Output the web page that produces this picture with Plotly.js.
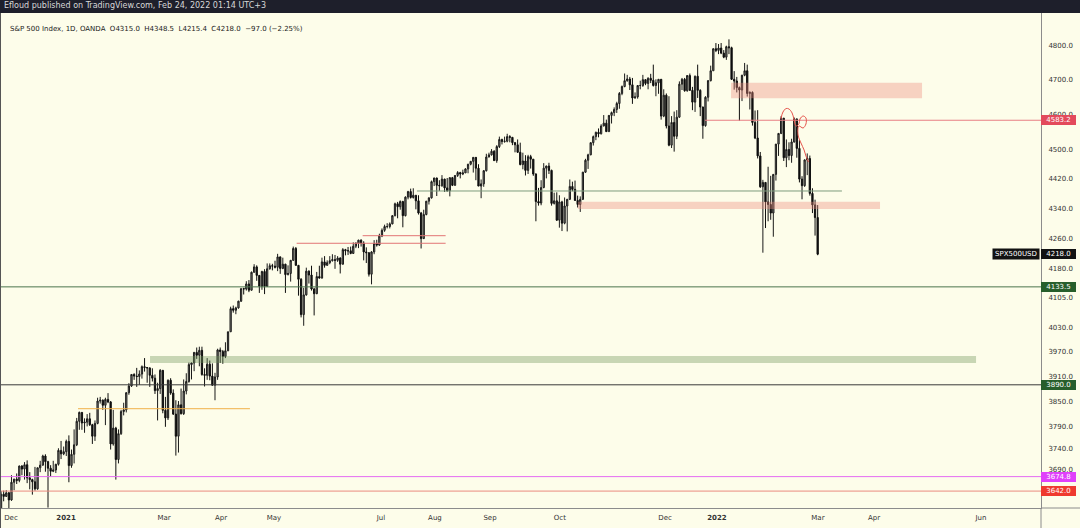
<!DOCTYPE html>
<html><head><meta charset="utf-8">
<script src="https://cdn.plot.ly/plotly-3.0.1.min.js"></script>
<style>html,body{margin:0;padding:0;background:#fdfdea;overflow:hidden}#chart{width:1080px;height:528px}</style>
</head><body><div id="chart"></div>
<script>
// S&P 500 (OANDA SPX500USD), daily bars, Nov 24 2020 .. Feb 23 2022
const open = [
 3594,3635,3630,3638,
 3622,3662,3669,3666,3699,3692,3702,3672,3668,3663,3647,3695,3701,3722,3709,3694,3687,3690,3703,3735,3727,3732,
 3756,3700,3726,3748,3803,3824,3799,3801,3809,3795,3768,3798,3851,3853,3841,3855,3849,3750,3787,
 3714,3774,3826,3830,3871,3887,3915,3911,3910,3916,3934,3932,3931,3913,3906,3876,3881,3925,3829,
 3811,3901,3870,3820,3768,3842,3821,3875,3898,3939,3943,3969,3962,3974,3915,3913,3940,3911,3889,3909,3975,3971,3959,
 3973,4020,4078,4074,4080,4097,4129,4128,4141,4125,4171,4185,4163,4135,4173,4135,4180,4188,4187,4184,4211,
 4181,4192,4165,4168,4202,4233,4189,4153,4063,4113,4174,4164,4128,4116,4160,4156,4198,4189,4196,4201,
 4204,4202,4208,4192,4230,4227,4227,4220,4239,4247,4255,4247,4224,4222,4166,4224,4246,4242,4266,4281,4291,4291,
 4298,4320,4352,4344,4358,4320,4370,4385,4369,4375,4360,4327,4259,4323,4359,4368,4412,4422,4402,4401,4419,
 4395,4387,4423,4402,4429,4437,4433,4436,4447,4460,4468,4479,4449,4400,4406,4442,4480,4486,4496,4470,4509,4529,
 4523,4524,4537,4535,4520,4514,4493,4459,4469,4443,4481,4474,4433,4358,4354,4396,4449,4455,4443,4353,4360,
 4308,4357,4300,4346,4364,4399,4391,4361,4350,4364,4438,4471,4486,4520,4537,4549,4545,4567,4575,4551,4597,
 4605,4614,4631,4660,4680,4697,4702,4685,4647,4650,4683,4683,4700,4689,4704,4698,4683,4691,4701,4595,4655,
 4567,4513,4577,4538,4592,4687,4701,4668,4712,4669,4635,4710,4669,4621,4568,4649,4697,4726,4791,4786,4793,4778,
 4766,4797,4794,4701,4696,4677,4670,4713,4726,4660,4663,4577,4533,4483,4398,4410,4357,4350,4327,4432,
 4516,4546,4589,4478,4501,4484,4522,4587,4504,4419,4401,4472,4476,4380,4349,4315
];
const high = [
 3642,3643,3644,3640,
 3678,3670,3682,3700,3701,3708,3712,3685,3670,3697,3695,3711,3725,3726,3711,3701,3711,3704,3740,3757,3744,3760,
 3770,3737,3784,3811,3826,3825,3810,3820,3823,3797,3805,3859,3861,3855,3859,3870,3851,3830,3790,
 3784,3830,3847,3872,3894,3916,3918,3931,3925,3937,3955,3933,3932,3930,3915,3895,3928,3926,3861,
 3903,3906,3879,3853,3851,3881,3903,3918,3944,3944,3970,3981,3983,3983,3930,3955,3949,3942,3919,3978,3981,3975,3994,
 4020,4083,4086,4083,4098,4129,4131,4148,4151,4173,4192,4189,4164,4175,4179,4194,4194,4193,4201,4219,4212,
 4209,4193,4189,4203,4238,4237,4190,4156,4131,4183,4176,4188,4131,4172,4188,4209,4213,4202,4213,4218,
 4216,4213,4210,4234,4232,4237,4238,4249,4249,4256,4257,4252,4236,4223,4226,4255,4256,4272,4286,4296,4300,4302,
 4321,4355,4357,4361,4360,4372,4387,4393,4394,4375,4375,4330,4336,4359,4369,4415,4423,4423,4416,4430,4420,
 4422,4424,4425,4430,4441,4439,4445,4449,4461,4468,4480,4480,4460,4418,4444,4489,4492,4502,4499,4513,4537,4531,
 4537,4545,4541,4535,4522,4529,4520,4492,4485,4486,4486,4474,4435,4395,4416,4463,4456,4464,4445,4382,4383,
 4375,4360,4369,4365,4418,4412,4415,4374,4372,4439,4475,4489,4520,4540,4551,4560,4572,4598,4585,4598,4608,
 4620,4636,4664,4683,4718,4714,4708,4705,4663,4684,4697,4714,4701,4707,4717,4744,4701,4702,4702,4672,4660,
 4652,4595,4608,4612,4695,4705,4705,4713,4718,4679,4712,4744,4672,4622,4652,4699,4741,4792,4808,4805,4808,4787,
 4800,4819,4797,4725,4708,4680,4714,4749,4744,4666,4666,4611,4612,4494,4417,4411,4453,4428,4432,4516,
 4547,4595,4590,4529,4521,4531,4591,4588,4527,4427,4473,4490,4484,4394,4363,4348.5
];
const low = [
 3594,3619,3629,3594,
 3620,3644,3658,3662,3678,3668,3660,3646,3634,3643,3645,3685,3700,3686,3605,3675,3685,3683,3700,3715,3724,3722,
 3662,3695,3705,3745,3783,3783,3776,3791,3792,3750,3757,3796,3845,3830,3794,3846,3737,3746,3668,
 3705,3771,3817,3824,3866,3885,3902,3885,3890,3905,3922,3895,3885,3898,3868,3805,3868,3822,3790,
 3806,3866,3818,3723,3730,3819,3818,3867,3895,3903,3923,3953,3935,3912,3886,3902,3901,3888,3853,3902,3943,3941,3955,
 3972,4020,4068,4064,4078,4095,4114,4124,4120,4124,4170,4149,4118,4126,4115,4134,4178,4176,4181,4174,4167,
 4179,4118,4163,4147,4201,4188,4111,4056,4035,4111,4142,4124,4061,4115,4155,4155,4183,4188,4192,4199,
 4180,4198,4168,4191,4215,4216,4218,4219,4234,4234,4238,4202,4195,4160,4140,4218,4238,4240,4263,4277,4286,4286,
 4297,4318,4313,4336,4289,4318,4364,4366,4366,4337,4323,4233,4258,4321,4350,4366,4400,4373,4387,4398,4384,
 4385,4372,4400,4401,4425,4421,4430,4436,4435,4457,4437,4416,4400,4367,4398,4440,4479,4484,4469,4464,4505,4515,
 4520,4521,4521,4513,4493,4492,4457,4446,4429,4433,4448,4428,4305,4347,4348,4394,4421,4433,4347,4350,4306,
 4288,4279,4297,4278,4362,4386,4360,4342,4330,4362,4436,4447,4485,4512,4527,4535,4543,4566,4551,4551,4574,
 4595,4604,4616,4655,4678,4694,4670,4630,4645,4645,4672,4679,4684,4672,4690,4680,4652,4659,4585,4592,4560,
 4510,4505,4495,4530,4590,4670,4665,4665,4667,4612,4607,4647,4595,4531,4565,4637,4695,4726,4781,4775,4775,4763,
 4758,4775,4699,4671,4663,4582,4638,4710,4651,4614,4568,4530,4476,4395,4222,4287,4305,4309,4264,4415,
 4483,4544,4469,4452,4471,4464,4520,4478,4410,4364,4398,4430,4374,4327,4267,4215.4
];
const close = [
 3635,3630,3638,3622,
 3662,3669,3666,3699,3692,3702,3672,3668,3663,3647,3695,3701,3722,3709,3694,3687,3690,3703,3735,3727,3732,3756,
 3700,3726,3748,3803,3824,3799,3801,3809,3795,3768,3798,3851,3853,3841,3855,3849,3750,3787,3714,
 3774,3826,3830,3871,3887,3915,3911,3910,3916,3934,3932,3931,3913,3906,3876,3881,3925,3829,3811,
 3901,3870,3820,3768,3842,3821,3875,3898,3939,3943,3969,3962,3974,3915,3913,3940,3911,3889,3909,3975,3971,3959,3973,
 4020,4078,4074,4080,4097,4129,4128,4141,4125,4171,4185,4163,4135,4173,4135,4180,4188,4187,4184,4211,4181,
 4192,4165,4168,4202,4233,4189,4153,4063,4113,4174,4164,4128,4116,4160,4156,4198,4189,4196,4201,4204,
 4202,4208,4192,4230,4227,4227,4220,4239,4247,4255,4247,4224,4222,4166,4224,4246,4242,4266,4281,4291,4291,4298,
 4320,4352,4344,4358,4320,4370,4385,4369,4375,4360,4327,4259,4323,4359,4368,4412,4422,4402,4401,4419,4395,
 4387,4423,4402,4429,4437,4433,4436,4447,4460,4468,4479,4449,4400,4406,4442,4480,4486,4496,4470,4509,4529,4523,
 4524,4537,4535,4520,4514,4493,4459,4469,4443,4481,4474,4433,4358,4354,4396,4449,4455,4443,4353,4360,4308,
 4357,4300,4346,4364,4399,4391,4361,4350,4364,4438,4471,4486,4520,4537,4549,4545,4567,4575,4551,4597,4605,
 4614,4631,4660,4680,4697,4702,4685,4647,4650,4683,4683,4700,4689,4704,4698,4683,4691,4701,4595,4655,4567,
 4513,4577,4538,4592,4687,4701,4668,4712,4669,4635,4710,4669,4621,4568,4649,4697,4726,4791,4786,4793,4778,4766,
 4797,4794,4701,4696,4677,4670,4713,4726,4660,4663,4577,4533,4483,4398,4410,4357,4350,4327,4432,4516,
 4546,4589,4478,4501,4484,4522,4587,4504,4419,4401,4472,4476,4380,4349,4315,4218
];

// axis ticks
const xTickPos  = [3.8, 24.9, 62.5, 84.3, 104.6, 145.6, 166.3, 187.4, 214.2, 254.5, 274.4, 313.1, 334.6, 375.6];
const xTickText = ['Dec','<b>2021</b>','Mar','Apr','May','Jul','Aug','Sep','Oct','Dec','<b>2022</b>','Mar','Apr','Jun'];
const yTicks = [4800,4700,4600,4500,4420,4340,4260,4180,4105,4030,3970,3910,3850,3790,3740,3690];

// drawn horizontal levels (full / partial width)
const levelValues = [4583.2, 4133.5, 3890.0, 3674.8, 3642.0];
const levelStart  = [269.8, -2, -2, -2, -2];
const levelColors = ['#e77f84', '#4b744d', '#3a3a3a', '#e56cf2', '#ea8a7e'];
const segValues = [4386.6, 4266.7, 4246.7, 3832.8];
const segStart  = [159.4, 138.6, 113.3, 29.5];
const segEnd    = [322.3, 170.4, 170.4, 95.4];
const segColors = ['#7d9c7d', '#e27474', '#e27474', '#f0b04a'];
// zones
const zoneTop    = [4691.2, 4357.6, 3960.0];
const zoneBottom = [4646.0, 4337.9, 3942.9];
const zoneStart  = [279.8, 221.1, 57.1];
const zoneEnd    = [353.0, 336.9, 373.7];
const zoneColors = ['rgba(236,140,125,0.38)', 'rgba(236,140,125,0.38)', 'rgba(113,150,92,0.38)'];
// hand-drawn sketch
const sketchX = [298.9,299.7,300.9,302.0,303.2,303.9,304.7,305.8,306.2,307.4,308.5,308.5,307.4,305.8,305.5,306.6,307.8,308.5,309.5];
const sketchY = [4586.8,4606.7,4616.7,4615.3,4603.9,4586.8,4566.9,4572.6,4586.8,4595.3,4589.6,4572.6,4561.3,4566.9,4541.5,4519.0,4499.5,4482.8,4466.1];
// price boxes on the scale
const boxValues = [4583.2, 4218.0, 4133.5, 3890.0, 3674.8, 3642.0];
const boxColors = ['#e34a5b', '#121212', '#275e2b', '#275e2b', '#e040fb', '#ef3a2e'];

const FONT = 'DejaVu Sans';
const px2x = p => (p - 1) / 1040;
const py2y = q => 1 - (q - 13) / 495;
const xIdx = close.map((_, i) => i);

const traces = [];
zoneTop.forEach((t, k) => {
  traces.push({type:'scatter', mode:'lines', x:[zoneStart[k], zoneEnd[k], zoneEnd[k], zoneStart[k], zoneStart[k]],
    y:[zoneBottom[k], zoneBottom[k], t, t, zoneBottom[k]], fill:'toself', fillcolor:zoneColors[k],
    line:{width:0}, hoverinfo:'skip'});
});
levelValues.forEach((v, k) => {
  traces.push({type:'scatter', mode:'lines', x:[levelStart[k], 420], y:[v, v],
    line:{color:levelColors[k], width:1}, hoverinfo:'skip'});
});
segValues.forEach((v, k) => {
  traces.push({type:'scatter', mode:'lines', x:[segStart[k], segEnd[k]], y:[v, v],
    line:{color:segColors[k], width:1}, hoverinfo:'skip'});
});
traces.push({type:'candlestick', x:xIdx, open:open, high:high, low:low, close:close,
  increasing:{line:{color:'#1a1a1a', width:1}, fillcolor:'#8a8a83'},
  decreasing:{line:{color:'#0e0e0e', width:1}, fillcolor:'#0e0e0e'},
  whiskerwidth:0, hoverinfo:'skip'});
traces.push({type:'scatter', mode:'lines', x:sketchX, y:sketchY,
  line:{color:'#e5534b', width:1, shape:'spline'}, hoverinfo:'skip'});

const annotations = [];
boxValues.forEach((v, k) => {
  annotations.push({xref:'paper', yref:'y', x:1, y:Math.log10(v), xanchor:'left', yanchor:'middle',
    text:v.toFixed(1), showarrow:false, bgcolor:boxColors[k], borderpad:1, borderwidth:0,
    width:33, height:8, align:'center', font:{family:FONT, size:7, color:'#ffffff'}});
});
annotations.push({xref:'paper', yref:'y', x:1, y:Math.log10(4218.0), xanchor:'right', yanchor:'middle',
  xshift:-1, text:'SPX500USD', showarrow:false, bgcolor:'#121212', borderpad:1, width:44, height:8,
  align:'center', font:{family:FONT, size:7, color:'#ffffff'}});
annotations.push({xref:'paper', yref:'paper', x:px2x(2), y:py2y(6), xanchor:'left', yanchor:'middle',
  text:'Efloud published on TradingView.com, Feb 24, 2022 01:14 UTC+3', showarrow:false,
  font:{family:FONT, size:8, color:'#d8d8d8'}});
annotations.push({xref:'paper', yref:'paper', x:px2x(8), y:py2y(29), xanchor:'left', yanchor:'middle',
  text:'S&amp;P 500 Index, 1D, OANDA\u00a0 O4315.0\u00a0 H4348.5\u00a0 L4215.4\u00a0 C4218.0\u00a0 \u221297.0 (\u22122.25%)',
  showarrow:false, font:{family:FONT, size:7, color:'#1a1a1a'}});

const shapes = [
  {type:'rect', xref:'paper', yref:'paper', x0:px2x(-2), x1:px2x(1082), y0:py2y(13), y1:py2y(-2),
   fillcolor:'#1e1f2b', line:{width:0}, layer:'above'},
  {type:'line', xref:'paper', yref:'paper', x0:1, x1:px2x(1082), y0:0, y1:0, line:{color:'#8c8c8c', width:1}},
  {type:'line', xref:'paper', yref:'paper', x0:1, x1:1, y0:0, y1:py2y(530), line:{color:'#8c8c8c', width:1}},
  {type:'line', xref:'paper', yref:'paper', x0:px2x(0.5), x1:px2x(0.5), y0:py2y(13), y1:py2y(530), line:{color:'#555555', width:1}}
];

const layout = {
  width:1080, height:528,
  margin:{l:1, r:39, t:13, b:20, pad:0},
  paper_bgcolor:'#fdfdea', plot_bgcolor:'#fdfdea',
  showlegend:false,
  xaxis:{range:[-0.02, 398.6], showgrid:false, zeroline:false, showline:true, linecolor:'#8c8c8c', linewidth:1,
    tickmode:'array', tickvals:xTickPos, ticktext:xTickText, ticks:'outside', ticklen:3, tickcolor:'rgba(0,0,0,0)',
    tickfont:{family:FONT, size:7, color:'#333333'}, rangeslider:{visible:false}, fixedrange:true},
  yaxis:{type:'log', side:'right', range:[Math.log10(3604.0), Math.log10(4898.3)], showgrid:false, zeroline:false,
    showline:true, linecolor:'#8c8c8c', linewidth:1, tickmode:'array', tickvals:yTicks,
    ticktext:yTicks.map(v => v.toFixed(1)), ticks:'outside', ticklen:5, tickcolor:'rgba(0,0,0,0)',
    tickfont:{family:FONT, size:7, color:'#333333'}, fixedrange:true},
  annotations:annotations,
  shapes:shapes
};

Plotly.newPlot('chart', traces, layout, {staticPlot:true, displayModeBar:false});
</script></body></html>
